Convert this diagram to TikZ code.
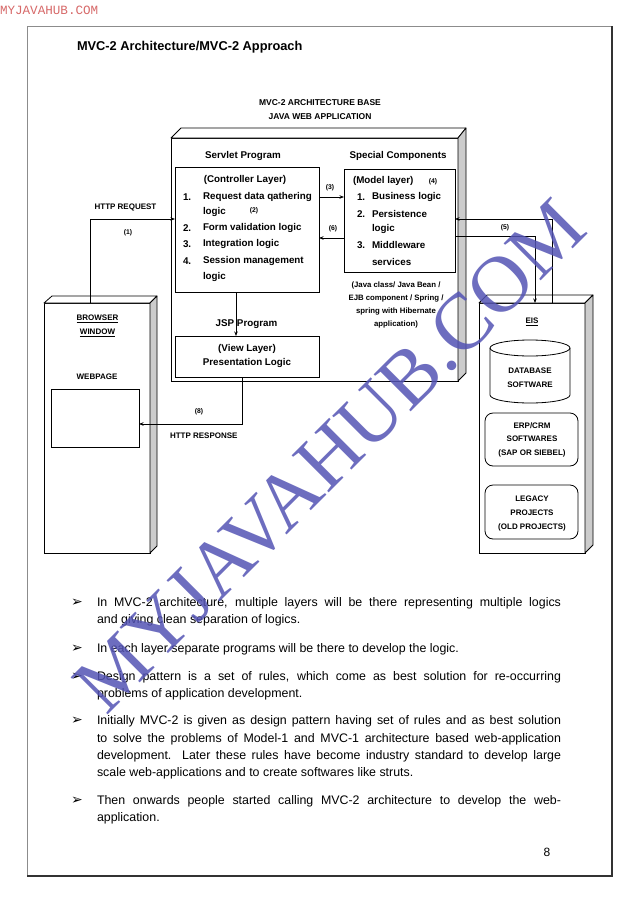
\documentclass[tikz,border=0pt]{standalone}
\usepackage{fontspec}
\setmainfont{Liberation Sans}
\newfontfamily\wmfont{Liberation Serif}
\newfontfamily\hubmono{Liberation Mono}
\newfontfamily\symfont{DejaVu Sans}
\usetikzlibrary{arrows.meta,calc}
\definecolor{wmblue}{RGB}{84,84,180}
\definecolor{hubred}{RGB}{215,105,105}
\definecolor{sidegray}{RGB}{204,204,204}
\definecolor{bordergray}{RGB}{140,140,140}
\definecolor{borderdark}{RGB}{50,50,50}
\newcommand{\myjl}[1]{\makebox[464pt][s]{#1}}
\begin{document}
\begin{tikzpicture}[x=1pt,y=-1pt,
  every node/.style={inner sep=0pt,outer sep=0pt},
  ln/.style={line width=0.8pt},
  arr/.style={line width=0.8pt,-{Stealth[length=4.5pt,width=3.5pt]}},
  box/.style={draw,line width=0.8pt,fill=white},
  rbox/.style={draw,line width=0.8pt,fill=white,rounded corners=8pt},
  face/.style={draw,line width=0.8pt,fill=white,line join=round},
  side/.style={draw,line width=0.8pt,fill=sidegray,line join=round},
  dtext/.style={font=\bfseries\fontsize{9.8}{11}\selectfont},
  stext/.style={font=\bfseries\fontsize{6.8}{8}\selectfont},
  ltext/.style={font=\bfseries\fontsize{8}{10}\selectfont},
  jtext/.style={font=\bfseries\fontsize{7.8}{9}\selectfont},
  btext/.style={font=\fontsize{12.4}{14}\selectfont,anchor=west},
  bul/.style={font=\symfont\fontsize{14}{14}\selectfont}
]
\fill[white] (0,0) rectangle (638,902);
\useasboundingbox (0,0) rectangle (638,902);

% page border
\coordinate (ptl) at (27,26);
\coordinate (ptr) at (612,26);
\coordinate (pbl) at (27,876);
\coordinate (pbr) at (612,876);
\draw[bordergray,line width=1pt] (pbl) -- (ptl) -- (ptr);
\draw[borderdark,line width=1.5pt] (ptr) -- (pbr) -- (pbl);

\node[font=\hubmono\fontsize{12.6}{13}\selectfont,text=hubred,anchor=west] (hub) at (0,10) {MYJAVAHUB.COM};
\node[font=\bfseries\fontsize{12.8}{14}\selectfont,anchor=west] (title) at (77,47) {MVC-2 Architecture/MVC-2 Approach};

\node[font=\bfseries\fontsize{8.5}{10}\selectfont] (base1) at (320,103) {MVC-2 ARCHITECTURE BASE};
\node[font=\bfseries\fontsize{8.5}{10}\selectfont] (base2) at (320,117) {JAVA WEB APPLICATION};

% main 3D box
\node[box,minimum width=287pt,minimum height=243pt] (main) at (314.5,259.5) {};
\draw[face] (main.north west) -- ++(10,-10) -- ($(main.north east)+(8,-10)$) -- (main.north east) -- cycle;
\draw[side] (main.north east) -- ++(8,-10) -- ($(main.south east)+(8,-8)$) -- (main.south east) -- cycle;

\node[dtext] (servlet) at (243,156) {Servlet Program};
\node[dtext] (special) at (398,156) {Special Components};

% controller
\node[box,minimum width=144pt,minimum height=125pt] (ctrl) at (247,229.5) {};
\node[dtext] (c0) at (245,180) {(Controller Layer)};
\node[dtext,anchor=west] (c1n) at (183,197) {1.};
\node[dtext,anchor=west] (c1) at (203,197) {Request data qathering};
\node[dtext,anchor=west] (c1b) at (203,212) {logic};
\node[stext] (l2) at (254,211) {(2)};
\node[dtext,anchor=west] (c2n) at (183,228) {2.};
\node[dtext,anchor=west] (c2) at (203,228) {Form validation logic};
\node[dtext,anchor=west] (c3n) at (183,244) {3.};
\node[dtext,anchor=west] (c3) at (203,244) {Integration logic};
\node[dtext,anchor=west] (c4n) at (183,261) {4.};
\node[dtext,anchor=west] (c4) at (203,261) {Session management};
\node[dtext,anchor=west] (c4b) at (203,277) {logic};

% model
\node[box,minimum width=111pt,minimum height=103pt] (model) at (399.5,220.5) {};
\node[dtext,anchor=west] (m0) at (353,181) {(Model layer)};
\node[stext] (l4) at (433,182) {(4)};
\node[dtext,anchor=west] (m1n) at (357,197) {1.};
\node[dtext,anchor=west] (m1) at (372,197) {Business logic};
\node[dtext,anchor=west] (m2n) at (357,214) {2.};
\node[dtext,anchor=west] (m2) at (372,214) {Persistence};
\node[dtext,anchor=west] (m2b) at (372,229) {logic};
\node[dtext,anchor=west] (m3n) at (357,245) {3.};
\node[dtext,anchor=west] (m3) at (372,245) {Middleware};
\node[dtext,anchor=west] (m3b) at (372,262) {services};

\node[jtext,align=center] (jv1) at (396,285) {(Java class/ Java Bean /};
\node[jtext,align=center] (jv2) at (396,298) {EJB component / Spring /};
\node[jtext,align=center] (jv3) at (396,311) {spring with Hibernate};
\node[jtext,align=center] (jv4) at (396,324) {application)};

% view
\node[dtext] (jsp) at (246.5,324) {JSP Program};
\node[box,minimum width=144pt,minimum height=41pt] (view) at (247,356.5) {};
\node[dtext] (v1) at (247,349) {(View Layer)};
\node[dtext] (v2) at (247,363) {Presentation Logic};

% browser
\node[box,minimum width=106pt,minimum height=250pt] (browser) at (97,428) {};
\draw[face] (browser.north west) -- ++(8,-7) -- ($(browser.north east)+(7,-7)$) -- (browser.north east) -- cycle;
\draw[side] (browser.north east) -- ++(7,-7) -- ($(browser.south east)+(7,-7)$) -- (browser.south east) -- cycle;
\node[ltext] (bw1) at (97.5,319) {\underline{BROWSER}};
\node[ltext] (bw2) at (97.5,333) {\underline{WINDOW}};
\node[ltext] (wp) at (97,377) {WEBPAGE};
\node[box,minimum width=88pt,minimum height=58pt] (webpage) at (95,418) {};

% EIS
\node[box,minimum width=106pt,minimum height=250pt] (eis) at (532,428) {};
\draw[face] (eis.north west) -- ++(8,-8) -- ($(eis.north east)+(8,-8)$) -- (eis.north east) -- cycle;
\draw[side] (eis.north east) -- ++(8,-8) -- ($(eis.south east)+(8,-8)$) -- (eis.south east) -- cycle;
\node[ltext] (eisl) at (532,322) {\underline{EIS}};
\draw[ln,fill=white] (490,348) -- (490,395) arc[start angle=180,end angle=360,x radius=40pt,y radius=8pt] -- (570,348);
\draw[ln] (530,348) ellipse[x radius=40pt,y radius=8pt];
\node[ltext] (db1) at (530,371) {DATABASE};
\node[ltext] (db2) at (530,385) {SOFTWARE};
\node[rbox,minimum width=93pt,minimum height=53pt] (erp) at (531.5,439.5) {};
\node[ltext] (e1) at (532,426) {ERP/CRM};
\node[ltext] (e2) at (532,439) {SOFTWARES};
\node[ltext] (e3) at (532,453) {(SAP OR SIEBEL)};
\node[rbox,minimum width=93pt,minimum height=54pt] (legacy) at (531.5,512) {};
\node[ltext] (g1) at (532,499) {LEGACY};
\node[ltext] (g2) at (532,513) {PROJECTS};
\node[ltext] (g3) at (532,527) {(OLD PROJECTS)};

% connectors
\draw[arr] (browser.north -| 90,0) |- (ctrl.west |- 0,219);
\node[ltext] (req) at (125.5,207) {HTTP REQUEST};
\node[stext] (l1) at (128,233) {(1)};
\draw[arr] (ctrl.east |- 0,197) -- (model.west |- 0,197);
\node[stext] (l3) at (330,188) {(3)};
\draw[arr] (model.west |- 0,238) -- (ctrl.east |- 0,238);
\node[stext] (l6) at (333,229) {(6)};
\draw[arr] (eis.north -| 552,0) |- (model.east |- 0,219);
\draw[arr] (model.east |- 0,236) -| (eis.north -| 535,0);
\node[stext] (l5) at (505,227.5) {(5)};
\draw[arr] (ctrl.south -| 236,0) -- (view.north -| 236,0);
\draw[arr] (view.south -| 242,0) |- (webpage.east |- 0,424);
\node[stext] (l8) at (199,412) {(8)};
\node[ltext,anchor=west] (resp) at (170,436) {HTTP RESPONSE};

% bullets
\node[bul] (b1) at (77,603) {➢};
\node[btext] (p1a) at (97,603) {\myjl{In MVC-2 architecture, multiple layers will be there representing multiple logics}};
\node[btext] (p1b) at (97,620) {and giving clean separation of logics.};
\node[bul] (b2) at (77,649) {➢};
\node[btext] (p2a) at (97,649) {In each layer separate programs will be there to develop the logic.};
\node[bul] (b3) at (77,677) {➢};
\node[btext] (p3a) at (97,677) {\myjl{Design pattern is a set of rules, which come as best solution for re-occurring}};
\node[btext] (p3b) at (97,694) {problems of application development.};
\node[bul] (b4) at (77,721) {➢};
\node[btext] (p4a) at (97,721) {\myjl{Initially MVC-2 is given as design pattern having set of rules and as best solution}};
\node[btext] (p4b) at (97,739) {\myjl{to solve the problems of Model-1 and MVC-1 architecture based web-application}};
\node[btext] (p4c) at (97,756) {\myjl{development. Later these rules have become industry standard to develop large}};
\node[btext] (p4d) at (97,773) {scale web-applications and to create softwares like struts.};
\node[bul] (b5) at (77,801) {➢};
\node[btext] (p5a) at (97,801) {\myjl{Then onwards people started calling MVC-2 architecture to develop the web-}};
\node[btext] (p5b) at (97,818) {application.};
\node[font=\fontsize{12}{14}\selectfont] (pg) at (547,852) {8};

% watermark
\node[font=\wmfont\fontsize{80}{80}\selectfont,text=wmblue,opacity=0.85,rotate=45] (wm) at (330,456) {MYJAVAHUB.COM};
\end{tikzpicture}
\end{document}
